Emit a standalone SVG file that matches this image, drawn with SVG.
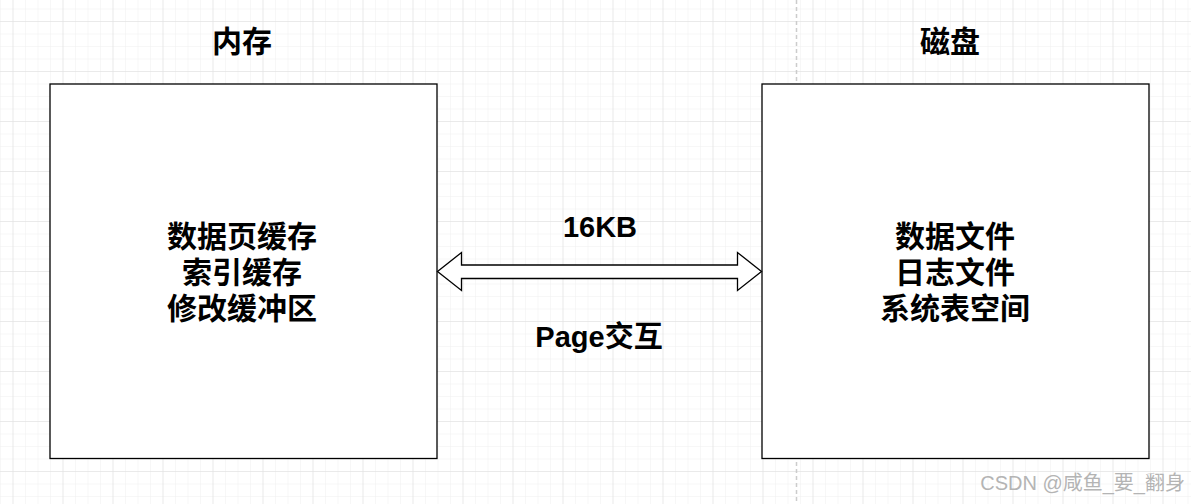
<svg xmlns="http://www.w3.org/2000/svg" width="1191" height="504" viewBox="0 0 1191 504">
  <defs>
    <pattern id="minor" patternUnits="userSpaceOnUse" x="0" y="8.5" width="12.5" height="12.5">
      <path d="M0 0H12.5M0 0V12.5" fill="none" stroke="#efefef" stroke-width="1"/>
    </pattern>
    <pattern id="major" patternUnits="userSpaceOnUse" x="12.5" y="21" width="50" height="50">
      <path d="M0 0H50M0 0V50" fill="none" stroke="#dedede" stroke-width="1"/>
    </pattern>
  </defs>
  <style>
    .box { fill: #ffffff; stroke: #000000; stroke-width: 1.3; }
    .t { font-family: "Liberation Sans", "Noto Sans CJK SC", sans-serif; font-weight: bold; font-size: 30px; fill: #000000; text-anchor: middle; }
    .lbl { font-size: 29px; }
    .wm { font-family: "Liberation Sans", "Noto Sans CJK SC", sans-serif; font-size: 20px; fill: #b4b4b4; text-anchor: end; }
  </style>
  <rect width="1191" height="504" fill="#ffffff"/>
  <rect width="1191" height="504" fill="url(#minor)"/>
  <rect width="1191" height="504" fill="url(#major)"/>
  <line x1="796.5" y1="0" x2="796.5" y2="504" stroke="#cccccc" stroke-width="1.5" stroke-dasharray="4 3"/>

  <g id="title-memory">
    <text class="t" x="242" y="52">内存</text>
  </g>
  <g id="title-disk">
    <text class="t" x="950" y="52">磁盘</text>
  </g>

  <g id="memory">
    <rect class="box" x="50" y="84" width="387" height="374.5"/>
    <text class="t" x="242" y="247">数据页缓存</text>
    <text class="t" x="242" y="283">索引缓存</text>
    <text class="t" x="242" y="319">修改缓冲区</text>
  </g>

  <g id="disk">
    <rect class="box" x="762" y="84" width="387" height="374.5"/>
    <text class="t" x="955" y="247">数据文件</text>
    <text class="t" x="955" y="283">日志文件</text>
    <text class="t" x="955" y="319">系统表空间</text>
  </g>

  <g id="connectors">
    <polygon points="437.5,271.5 461.5,252.5 461.5,265 737.5,265 737.5,252.5 761.5,271.5 737.5,290.5 737.5,278.5 461.5,278.5 461.5,290.5" fill="#ffffff" stroke="#000000" stroke-width="1.3" stroke-linejoin="miter"/>
    <text class="t lbl" x="600" y="237">16KB</text>
    <text class="t lbl" x="599" y="347">Page交互</text>
  </g>

  <text class="wm" x="1185" y="490">CSDN @咸鱼_要_翻身</text>
</svg>
